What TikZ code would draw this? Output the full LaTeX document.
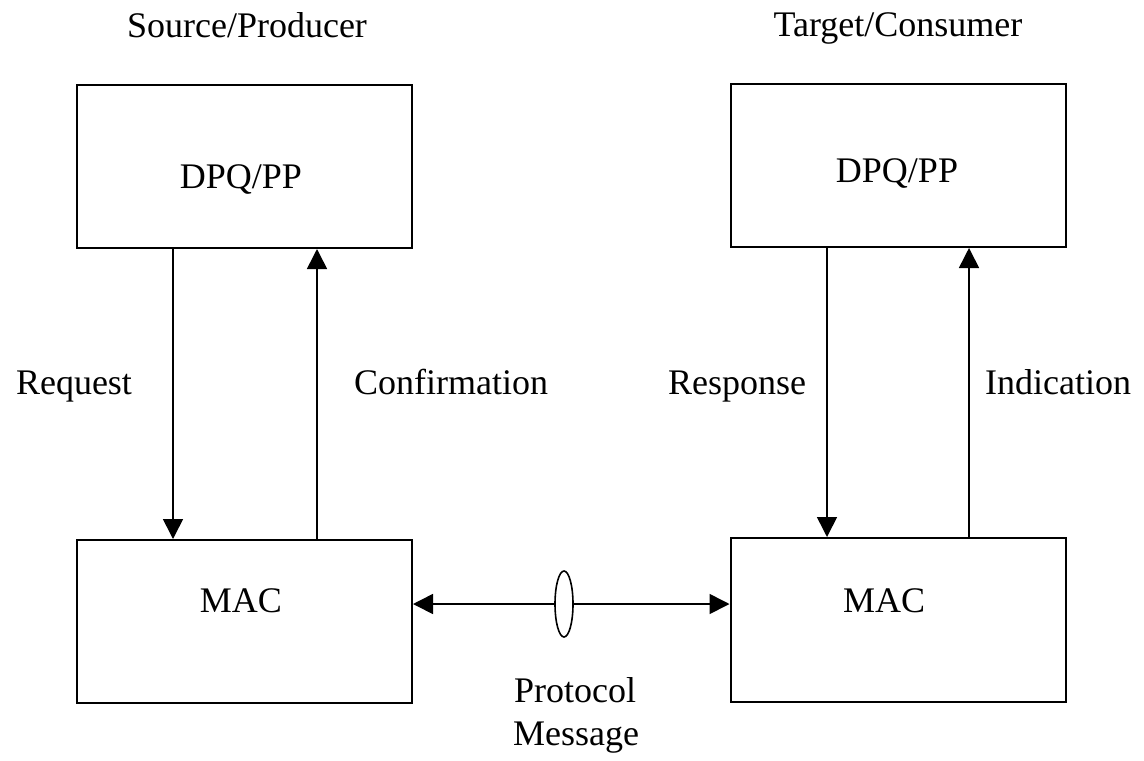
\documentclass[tikz,border=0pt]{standalone}
\usepackage{fontspec}
\setmainfont{Liberation Serif}
\usetikzlibrary{arrows.meta,calc,shapes.geometric}
\begin{document}
\begin{tikzpicture}[x=0.5pt,y=-0.5pt,
  box/.style={draw,line width=1pt,minimum width=167.5pt,minimum height=81.5pt,inner sep=0pt},
  lbl/.style={font=\fontsize{18}{21}\selectfont,anchor=base,inner sep=0pt},
  tip/.tip={Triangle[length=10pt,width=10pt]},
  arr/.style={line width=0.8pt,-tip},
  darr/.style={line width=0.8pt,tip-tip},
  ]
\useasboundingbox (0,0) rectangle (1144,760);
% boxes
\node[box] (dpqL) at (244.5,166.5) {};
\node[box] (macL) at (244.5,621.5) {};
\node[box] (dpqR) at (898,165.5) {};
\node[box,minimum height=82pt] (macR) at (898,620) {};
% texts in boxes
\node[lbl] (tdpqL) at (241,188) {DPQ/PP};
\node[lbl] (tmacL) at (241,612) {MAC};
\node[lbl] (tdpqR) at (897,182) {DPQ/PP};
\node[lbl] (tmacR) at (884,612) {MAC};
% headings
\node[lbl] (src) at (247,37) {Source/Producer};
\node[lbl] (tgt) at (898,36) {Target/Consumer};
% vertical connectors
\coordinate (xa) at (173,0);
\coordinate (xb) at (317,0);
\coordinate (xc) at (827,0);
\coordinate (xd) at (969,0);
\draw[arr] (dpqL.south -| xa) -- (macL.north -| xa);
\draw[arr] (macL.north -| xb) -- (dpqL.south -| xb);
\draw[arr] (dpqR.south -| xc) -- (macR.north -| xc);
\draw[arr] (macR.north -| xd) -- (dpqR.south -| xd);
% connector labels
\node[lbl] (req) at (74,394) {Request};
\node[lbl] (conf) at (451,394) {Confirmation};
\node[lbl] (resp) at (737,394) {Response};
\node[lbl] (ind) at (1058,394) {Indication};
% protocol message
\coordinate (yh) at (0,604);
\draw[darr] (macL.east |- yh) -- (macR.west |- yh);
\node[draw,ellipse,fill=white,line width=0.8pt,minimum width=9pt,minimum height=33pt,inner sep=0pt] (pm) at (564,604) {};
\node[lbl] (prot) at (575,702) {Protocol};
\node[lbl] (msg) at (576,745) {Message};
\end{tikzpicture}
\end{document}
